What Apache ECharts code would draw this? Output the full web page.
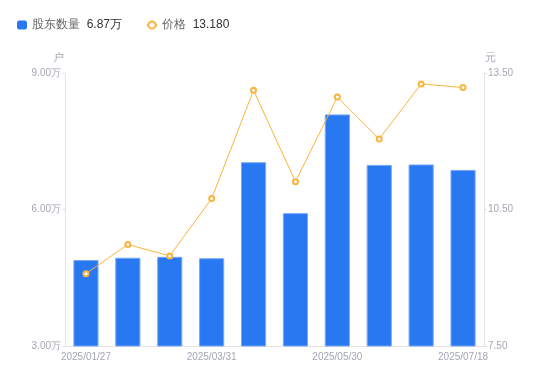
<!DOCTYPE html>
<html><head><meta charset="utf-8">
<script src="https://cdn.jsdelivr.net/npm/echarts@6/dist/echarts.min.js"></script>
<style>html,body{margin:0;padding:0;background:#fff}#c{width:550px;height:381px}</style>
</head><body><div id="c"></div>
<script>
var categories = ['2025/01/27','2025/02/10','2025/02/28','2025/03/31','2025/04/18','2025/04/30','2025/05/30','2025/06/20','2025/06/30','2025/07/18'];
var holders = [48900, 49400, 49600, 49300, 70400, 59200, 80900, 69800, 69900, 68700];
var prices = [9.09, 9.73, 9.48, 10.74, 13.12, 11.11, 12.97, 12.05, 13.26, 13.18];
var leftTicks = {min: 30000, max: 90000, interval: 30000};
var rightTicks = {min: 7.5, max: 13.5, interval: 3};
var legendValues = {'股东数量': '6.87万', '价格': '13.180'};

var chart = echarts.init(document.getElementById('c'), null, {renderer: 'canvas'});
var labelColor = '#a3a6b4';
chart.setOption({
  animation: false,
  legend: {
    left: 12, top: 14, itemGap: 24, itemWidth: 10, itemHeight: 9,
    data: [
      {name: '股东数量', icon: 'roundRect', itemStyle: {borderWidth: 0}},
      {name: '价格', itemStyle: {borderWidth: 2}}
    ],
    formatter: function (n) { return '{n|' + n + '}  {v|' + legendValues[n] + '}'; },
    textStyle: {rich: {n: {color: '#666', fontSize: 12}, v: {color: '#333', fontSize: 12}}}
  },
  grid: {left: 65, right: 66, top: 73, bottom: 35},
  xAxis: {
    type: 'category', data: categories,
    axisLine: {lineStyle: {color: '#e3e3e3'}},
    axisTick: {show: false},
    axisLabel: {color: labelColor, fontSize: 10, interval: 2, margin: 6}
  },
  yAxis: [{
    type: 'value', name: '户', min: leftTicks.min, max: leftTicks.max, interval: leftTicks.interval,
    nameTextStyle: {color: labelColor, fontSize: 11, padding: [0, 0, 0, -14]}, nameGap: 10,
    axisLine: {show: true, lineStyle: {color: '#e3e3e3'}},
    axisTick: {show: true, length: 3, lineStyle: {color: '#e3e3e3'}},
    splitLine: {show: false},
    axisLabel: {color: labelColor, fontSize: 10, margin: 4, formatter: function (v) { return (v / 10000).toFixed(2) + '万'; }}
  }, {
    type: 'value', name: '元', min: rightTicks.min, max: rightTicks.max, interval: rightTicks.interval,
    nameTextStyle: {color: labelColor, fontSize: 11, padding: [0, 0, 0, 12]}, nameGap: 10,
    axisLine: {show: true, lineStyle: {color: '#e3e3e3'}},
    axisTick: {show: true, length: 3, lineStyle: {color: '#e3e3e3'}},
    splitLine: {show: false},
    axisLabel: {color: labelColor, fontSize: 10, margin: 4, formatter: function (v) { return v.toFixed(2); }}
  }],
  series: [{
    name: '股东数量', type: 'bar', data: holders, barWidth: '60%',
    itemStyle: {color: '#2878f2', borderColor: '#78a8f5', borderWidth: 1}
  }, {
    name: '价格', type: 'line', yAxisIndex: 1, data: prices,
    symbol: 'emptyCircle', symbolSize: 5,
    lineStyle: {color: '#f8b43c', width: 1},
    itemStyle: {color: '#f8b43c', borderWidth: 2}
  }]
});
</script></body></html>
